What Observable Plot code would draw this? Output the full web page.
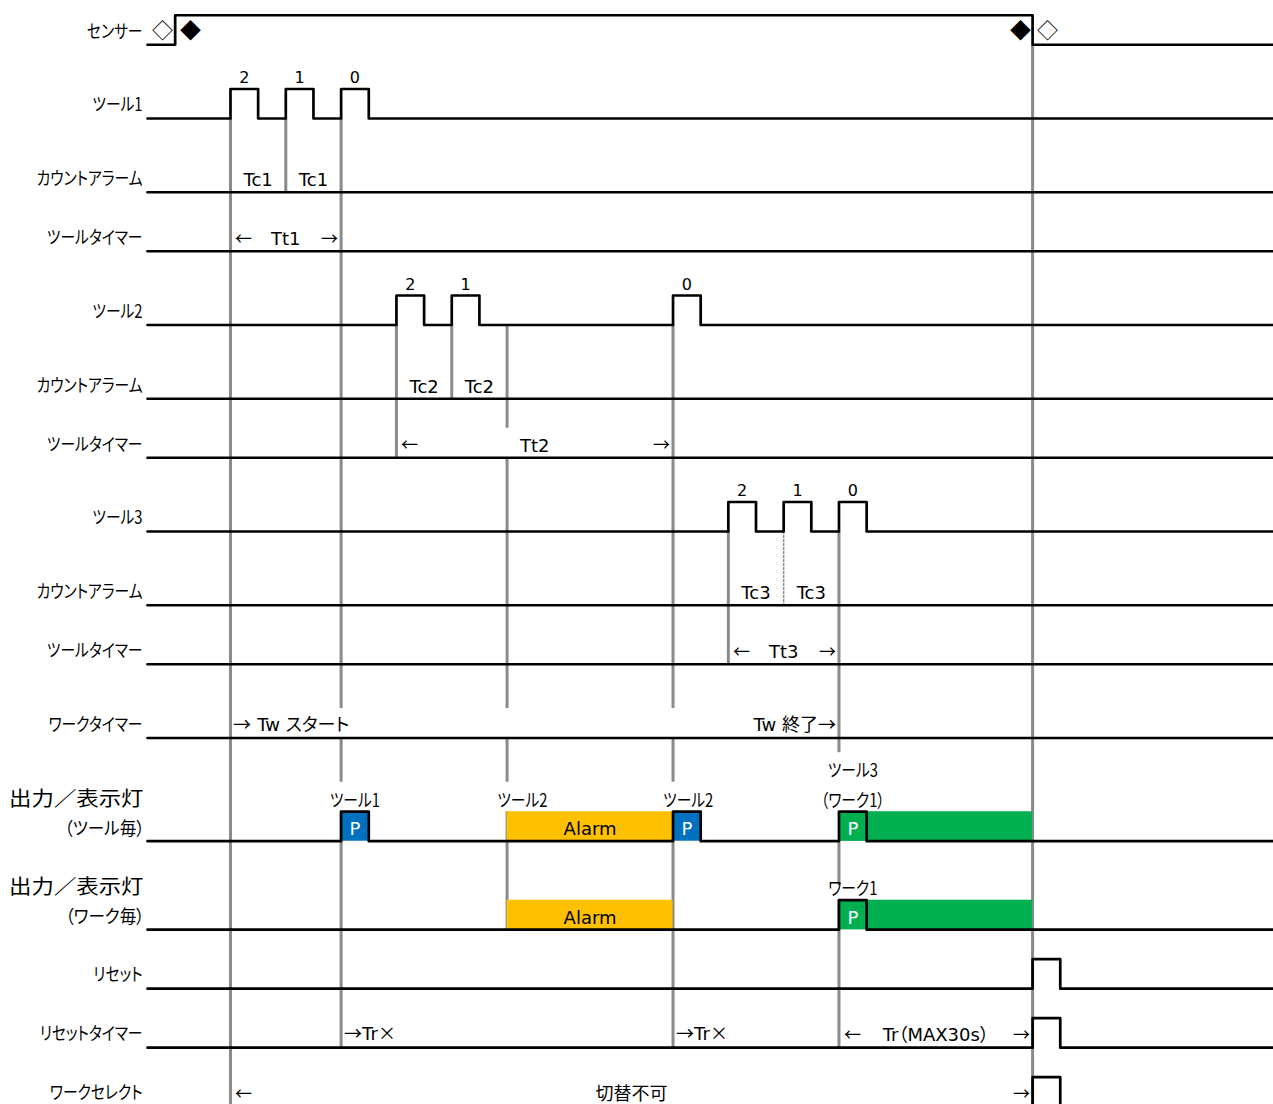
<!DOCTYPE html>
<html><head><meta charset="utf-8">
<script src="https://cdn.jsdelivr.net/npm/d3@7"></script>
<script src="https://cdn.jsdelivr.net/npm/@observablehq/plot@0.6"></script>
<style>
@font-face {
  font-family: "CJKSymbols";
  src: local("Noto Sans CJK JP"), local("Noto Sans CJK JP Regular"), local("NotoSansCJKjp-Regular"), local("NotoSansCJKJP-Regular");
  unicode-range: U+2190-21FF, U+00D7, U+25C6, U+25C7;
}
body{margin:0;background:#fff;}
#chart svg{font-feature-settings:"palt";display:block;}
</style>
</head><body><div id="chart"></div>
<script>
// ---- rows (top to bottom) and their heights in grid units ----
const rowLabels = ["センサー","ツール1","カウントアラーム","ツールタイマー","ツール2","カウントアラーム","ツールタイマー","ツール3","カウントアラーム","ツールタイマー","ワークタイマー","出力／表示灯\n（ツール毎）","出力／表示灯\n（ワーク毎）","リセット","リセットタイマー","ワークセレクト"];
const rowHeights = [3,5,5,4,5,5,4,5,5,4,5,7,6,4,4,4];

// ---- waveforms: high intervals per row (time units) ----
const sensorPulses = [[1,32]];
const tool1Pulses = [[3,4],[5,6],[7,8]];
const tool2Pulses = [[9,10],[11,12],[19,20]];
const tool3Pulses = [[21,22],[23,24],[25,26]];
const pulseCounts = [2,1,0];
const outToolPulses = [[7,8],[19,20],[25,26]];
const outWorkPulses = [[25,26]];
const resetPulses = [[32,33]];
const resetTimerPulses = [[32,33]];
const workSelectPulses = [[32,33]];
const tEnd = 40.75;

// ---- output / indicator bars ----
const outputBars = [
  {row:11,t0:13,t1:19,kind:"alarm",label:"Alarm"},
  {row:11,t0:25,t1:32,kind:"ok",label:""},
  {row:11,t0:7,t1:8,kind:"p-tool",label:"P"},
  {row:11,t0:19,t1:20,kind:"p-tool",label:"P"},
  {row:11,t0:25,t1:26,kind:"p-ok",label:"P"},
  {row:12,t0:13,t1:19,kind:"alarm",label:"Alarm"},
  {row:12,t0:25,t1:32,kind:"ok",label:""},
  {row:12,t0:25,t1:26,kind:"p-ok",label:"P"}
];
const outputNotes = [
  {row:11,t:7.5,text:"ツール1"},
  {row:11,t:13.55,text:"ツール2"},
  {row:11,t:19.55,text:"ツール2"},
  {row:11,t:25.5,text:"ツール3\n（ワーク1）"},
  {row:12,t:25.5,text:"ワーク1"}
];

// ---- annotations ----
const tcLabels = [["Tc1",2,4],["Tc1",2,6],["Tc2",5,10],["Tc2",5,12],["Tc3",8,22],["Tc3",8,24]];
const timerSpans = [
  {row:3,t0:3,t1:7,label:"Tt1"},
  {row:6,t0:9,t1:19,label:"Tt2"},
  {row:9,t0:21,t1:25,label:"Tt3"},
  {row:14,t0:25,t1:32,label:"Tr（MAX30s）"},
  {row:15,t0:3,t1:32,label:"切替不可"}
];
const notes = [
  {row:10,t:3,text:"→ Tw スタート",anchor:"start"},
  {row:10,t:25,text:"Tw 終了→",anchor:"end"},
  {row:14,t:7,text:"→Tr×",anchor:"start"},
  {row:14,t:19,text:"→Tr×",anchor:"start"}
];
const sensorMarks = [[0.55,"◇"],[1.55,"◆"],[31.55,"◆"],[32.55,"◇"]];

// ---- gray timing markers: [time, from, to, dotted] in grid units ----
const markers = [
  [3,8,75],[5,8,13],
  [7,8,48],[7,50,53],[7,55,71],
  [9,22,31],[11,22,27],
  [13,22,29],[13,31,48],[13,50,53],[13,55,63],
  [19,22,48],[19,50,53],[19,55,71],
  [21,36,45],[23,36,41,true],
  [25,36,51],[25,57,60],[25,61,71],
  [32,3,75]
];

// ---- derived tables ----
const rowBase = d3.cumsum(rowHeights);
const waveRows = [[0,sensorPulses],[1,tool1Pulses],[2,[]],[3,[]],[4,tool2Pulses],[5,[]],[6,[]],[7,tool3Pulses],[8,[]],[9,[]],[10,[]],[11,outToolPulses],[12,outWorkPulses],[13,resetPulses],[14,resetTimerPulses],[15,workSelectPulses]];
const wavePts = [];
for (const [r, pulses] of waveRows) {
  const b = rowBase[r];
  wavePts.push({r, t:0, y:b});
  for (const [a,c] of pulses) { wavePts.push({r,t:a,y:b-2}); wavePts.push({r,t:c,y:b}); }
  wavePts.push({r, t:tEnd, y:b});
}
const countTexts = [];
[[1,tool1Pulses],[4,tool2Pulses],[7,tool3Pulses]].forEach(([r,p]) => p.forEach(([a,c],i) => countTexts.push({t:(a+c)/2, y:rowBase[r]-2, text:String(pulseCounts[i])})));
const single = rowLabels.map((l,i)=>({l,i})).filter(d=>!d.l.includes("\n"));
const doubles = rowLabels.map((l,i)=>({l,i})).filter(d=>d.l.includes("\n"));

const FF = "CJKSymbols,'DejaVu Sans','Noto Sans CJK JP',sans-serif";
const JF = "CJKSymbols,'Noto Sans CJK JP',sans-serif";

const chart = Plot.plot({
  width: 1273, height: 1104,
  margin: 0,
  x: {domain: [-5.315, 40.71], axis: null},
  y: {domain: [0, 74.85], range: [0, 1104], axis: null},
  color: {domain: ["alarm","ok","p-tool","p-ok"], range: ["#FFC000","#00B050","#0070C0","#00B050"]},
  style: {fontFamily: FF, background: "#fff"},
  marks: [
    Plot.ruleX(markers.filter(d=>!d[3]), {x: d=>d[0], y1: d=>d[1], y2: d=>d[2], stroke: "#8a8a8a", strokeWidth: 3}),
    Plot.ruleX(markers.filter(d=>d[3]), {x: d=>d[0], y1: d=>d[1], y2: d=>d[2], stroke: "#8a8a8a", strokeWidth: 1.5, strokeDasharray: "3,1"}),
    Plot.rectX(outputBars, {x1: "t0", x2: "t1", y1: d=>rowBase[d.row]-2, y2: d=>rowBase[d.row], fill: "kind", inset: 0}),
    Plot.line(wavePts, {x: "t", y: "y", z: "r", curve: "step-after", stroke: "#000", strokeWidth: 2.7}),
    // left labels
    Plot.text(single, {x: 0, y: d=>rowBase[d.i], text: "l", textAnchor: "end", dx: -5, dy: -13, fontSize: 18, fontFamily: JF, fill: "#000", className: "cmp"}),
    Plot.text(doubles, {x: 0, y: d=>rowBase[d.i], text: d=>d.l.split("\n")[0], textAnchor: "end", dx: -4, dy: -42, fontSize: 20, fontFamily: JF, fill: "#000", className: "wide"}),
    Plot.text(doubles, {x: 0, y: d=>rowBase[d.i], text: d=>d.l.split("\n")[1], textAnchor: "end", dx: -3, dy: -12, fontSize: 18, fontFamily: JF, fill: "#000", className: "cmp2"}),
    // sensor diamonds
    Plot.text(sensorMarks, {x: d=>d[0], y: rowBase[0], text: d=>d[1], dy: -13, fontSize: 21, fontFamily: JF, fill: "#000"}),
    // pulse counts
    Plot.text(countTexts, {x: "t", y: "y", text: "text", dy: -11, fontSize: 16, fill: "#000"}),
    // Tc labels
    Plot.text(tcLabels, {x: d=>d[2], y: d=>rowBase[d[1]], text: d=>d[0], dy: -12, fontSize: 18, fill: "#000"}),
    // timer spans
    Plot.text(timerSpans, {x: d=>(d.t0+d.t1)/2, y: d=>rowBase[d.row], text: "label", dy: -12, fontSize: 18, fill: "#000"}),
    Plot.text(timerSpans, {x: "t0", y: d=>rowBase[d.row], text: d=>"←", textAnchor: "start", dx: 5, dy: -12, fontSize: 17, fill: "#000"}),
    Plot.text(timerSpans, {x: "t1", y: d=>rowBase[d.row], text: d=>"→", textAnchor: "end", dx: -3, dy: -12, fontSize: 17, fill: "#000"}),
    // notes
    Plot.text(notes.filter(d=>d.anchor==="start"), {x: "t", y: d=>rowBase[d.row], text: "text", textAnchor: "start", dx: 3, dy: -13, fontSize: 18, fill: "#000"}),
    Plot.text(notes.filter(d=>d.anchor==="end"), {x: "t", y: d=>rowBase[d.row], text: "text", textAnchor: "end", dx: -3, dy: -13, fontSize: 18, fill: "#000"}),
    // output bar labels
    Plot.text(outputBars.filter(d=>d.label), {x: d=>(d.t0+d.t1)/2, y: d=>rowBase[d.row]-1, text: "label", dy: 3, fontSize: 18, fill: d=>d.label==="P" ? "#fff" : "#000"}),
    Plot.text(outputNotes, {x: "t", y: d=>rowBase[d.row]-2, text: "text", lineAnchor: "bottom", lineHeight: 1.65, dy: -5, fontSize: 18, fontFamily: JF, fill: "#000", className: "cmp"})
  ]
});
document.getElementById("chart").appendChild(chart);

// narrow the proportional katakana labels, widen the kanji headers (letterform styling only)
function fit(el, k) {
  const w = el.getComputedTextLength();
  if (w > 0) { el.setAttribute("textLength", (w * k).toFixed(1)); el.setAttribute("lengthAdjust", "spacingAndGlyphs"); }
}
function apply(sel, k) {
  chart.querySelectorAll(sel).forEach(t => {
    const spans = t.querySelectorAll("tspan");
    if (spans.length) spans.forEach(s => fit(s, k)); else fit(t, k);
  });
}
const run = () => { apply("g.cmp text", 0.82); apply("g.cmp2 text", 0.92); apply("g.wide text", 1.12); };
if (document.fonts && document.fonts.ready) document.fonts.ready.then(run); else run();
</script>
</body></html>
